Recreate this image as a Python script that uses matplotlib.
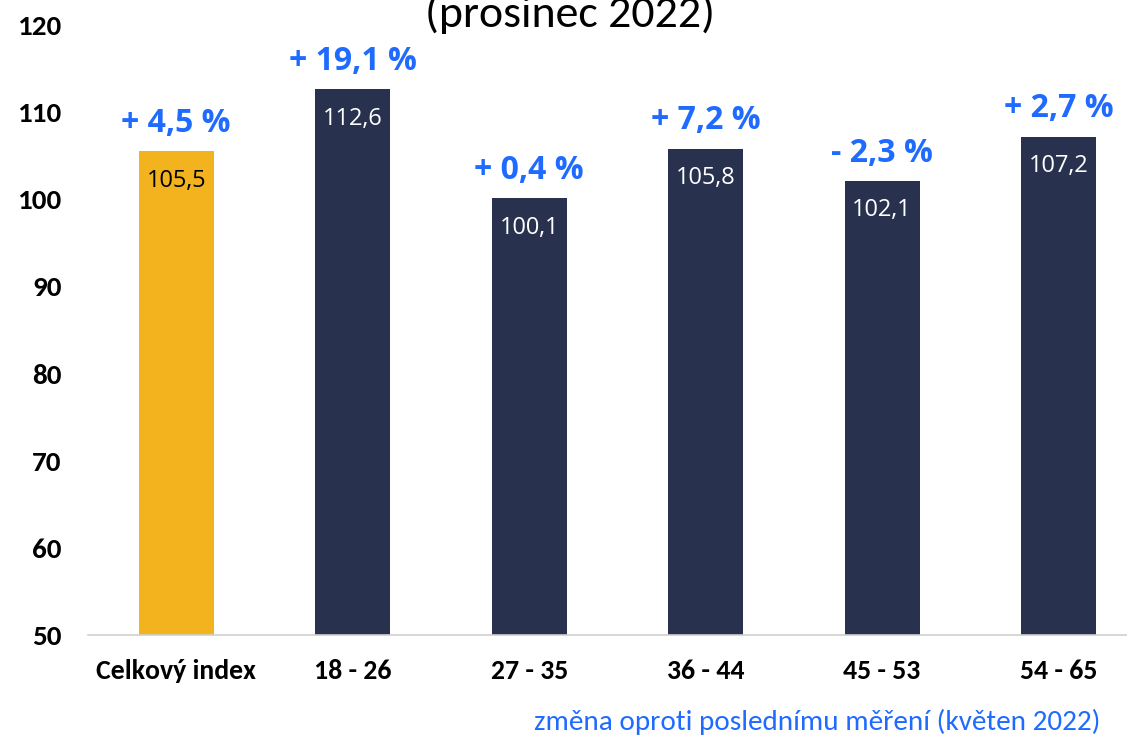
import matplotlib.pyplot as plt
from matplotlib import font_manager
from matplotlib.font_manager import FontProperties

# --- data ---
categories = ["Celkový index", "18 - 26", "27 - 35", "36 - 44", "45 - 53", "54 - 65"]
values = [105.5, 112.6, 100.1, 105.8, 102.1, 107.2]
changes = ["+ 4,5 %", "+ 19,1 %", "+ 0,4 %", "+ 7,2 %", "- 2,3 %", "+ 2,7 %"]
value_labels = ["105,5", "112,6", "100,1", "105,8", "102,1", "107,2"]
yticks = [50, 60, 70, 80, 90, 100, 110, 120]

yellow = "#F2B31F"
navy = "#28324E"
blue = "#1F6BFF"


def font_file(name, fallback):
    for f in font_manager.fontManager.ttflist:
        if f.fname.endswith(name):
            return FontProperties(fname=f.fname)
    return FontProperties(family=fallback)


calibri = "Carlito"
os_bold = font_file("OpenSans-Bold.ttf", "DejaVu Sans")
os_bold.set_size(23)
os_reg = font_file("OpenSans-Regular.ttf", "DejaVu Sans")
os_reg.set_size(17)

fig = plt.figure(figsize=(11.27, 7.40), dpi=100)
W, H = 1127, 740
ax = fig.add_axes([88 / W, (H - 635) / H, (W - 88) / W, 610 / H])

colors = [yellow] + [navy] * (len(values) - 1)
x = range(len(values))
ax.bar(x, [v - 50 for v in values], bottom=50, width=0.425, color=colors)

ax.set_ylim(50, 120)
ax.set_xlim(-0.5, (W - 176) / 176.5)
ax.set_yticks(yticks)
ax.set_yticklabels([str(t) for t in yticks], family=calibri, fontweight="bold", fontsize=21)
ax.set_xticks(list(x))
ax.set_xticklabels(categories, family=calibri, fontweight="bold", fontsize=20)
ax.tick_params(axis="both", length=0)
ax.tick_params(axis="y", pad=19)
ax.tick_params(axis="x", pad=17)

for s in ["top", "right", "left"]:
    ax.spines[s].set_visible(False)
ax.spines["bottom"].set_color("#d0d0d0")
ax.spines["bottom"].set_linewidth(1.2)

for i, (v, lab, ch) in enumerate(zip(values, value_labels, changes)):
    tc = "black" if i == 0 else "white"
    ax.annotate(lab, (i, v), xytext=(0, -21), textcoords="offset points",
                ha="center", va="center", color=tc, fontproperties=os_reg)
    ax.annotate(ch, (i, v), xytext=(0, 20), textcoords="offset points",
                ha="center", va="center", color=blue, fontproperties=os_bold)

fig.text(570 / W, 1 - 27 / H, "(prosinec 2022)", ha="center", va="baseline",
         fontsize=33, family=calibri)
fig.text(1100 / W, 1 - 722 / H, "změna oproti poslednímu měření (květen 2022)",
         ha="right", va="center", color=blue, fontsize=21, family=calibri)

fig.savefig("out.png", dpi=100)
